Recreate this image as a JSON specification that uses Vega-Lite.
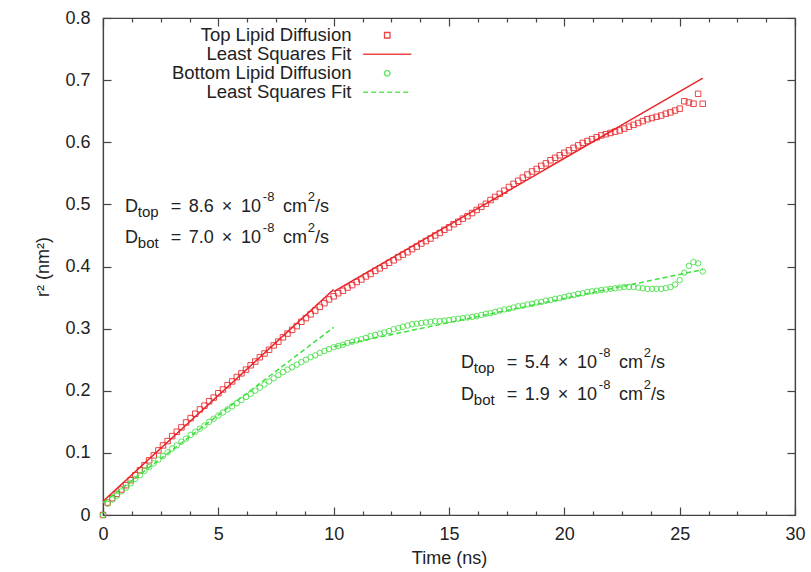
{
  "$schema": "https://vega.github.io/schema/vega-lite/v6.json",
  "width": 692,
  "height": 497,
  "autosize": "none",
  "padding": {"left": 103, "top": 18, "right": 16, "bottom": 57},
  "background": "white",
  "config": {
    "font": "Liberation Sans",
    "view": {"stroke": "#444", "strokeWidth": 1.2},
    "axis": {"grid": false, "domainColor": "#444", "tickColor": "#444", "labelColor": "#222", "titleColor": "#222", "labelFontSize": 18, "titleFontSize": 18, "titleFontWeight": "normal", "labelFont": "Liberation Sans", "titleFont": "Liberation Sans", "labelFlush": false, "labelOverlap": false, "domainWidth": 1.2, "tickWidth": 1.2}
  },
  "datasets": {
    "pts": [
      {"s":"Top","t":0.0,"r":0.000},{"s":"Top","t":0.2,"r":0.020},{"s":"Top","t":0.4,"r":0.027},{"s":"Top","t":0.6,"r":0.034},{"s":"Top","t":0.8,"r":0.041},{"s":"Top","t":1.0,"r":0.048},{"s":"Top","t":1.2,"r":0.056},{"s":"Top","t":1.4,"r":0.064},{"s":"Top","t":1.6,"r":0.072},{"s":"Top","t":1.8,"r":0.080},
      {"s":"Top","t":2.0,"r":0.088},{"s":"Top","t":2.2,"r":0.096},{"s":"Top","t":2.4,"r":0.104},{"s":"Top","t":2.6,"r":0.112},{"s":"Top","t":2.8,"r":0.119},{"s":"Top","t":3.0,"r":0.127},{"s":"Top","t":3.2,"r":0.134},{"s":"Top","t":3.4,"r":0.141},{"s":"Top","t":3.6,"r":0.149},{"s":"Top","t":3.8,"r":0.156},
      {"s":"Top","t":4.0,"r":0.163},{"s":"Top","t":4.2,"r":0.170},{"s":"Top","t":4.4,"r":0.176},{"s":"Top","t":4.6,"r":0.183},{"s":"Top","t":4.8,"r":0.189},{"s":"Top","t":5.0,"r":0.196},{"s":"Top","t":5.2,"r":0.202},{"s":"Top","t":5.4,"r":0.209},{"s":"Top","t":5.6,"r":0.215},{"s":"Top","t":5.8,"r":0.222},
      {"s":"Top","t":6.0,"r":0.228},{"s":"Top","t":6.2,"r":0.234},{"s":"Top","t":6.4,"r":0.241},{"s":"Top","t":6.6,"r":0.247},{"s":"Top","t":6.8,"r":0.254},{"s":"Top","t":7.0,"r":0.260},{"s":"Top","t":7.2,"r":0.266},{"s":"Top","t":7.4,"r":0.273},{"s":"Top","t":7.6,"r":0.279},{"s":"Top","t":7.8,"r":0.286},
      {"s":"Top","t":8.0,"r":0.292},{"s":"Top","t":8.2,"r":0.298},{"s":"Top","t":8.4,"r":0.304},{"s":"Top","t":8.6,"r":0.311},{"s":"Top","t":8.8,"r":0.317},{"s":"Top","t":9.0,"r":0.323},{"s":"Top","t":9.2,"r":0.329},{"s":"Top","t":9.4,"r":0.335},{"s":"Top","t":9.6,"r":0.341},{"s":"Top","t":9.8,"r":0.347},
      {"s":"Top","t":10.0,"r":0.352},{"s":"Top","t":10.2,"r":0.357},{"s":"Top","t":10.4,"r":0.361},{"s":"Top","t":10.6,"r":0.366},{"s":"Top","t":10.8,"r":0.370},{"s":"Top","t":11.0,"r":0.375},{"s":"Top","t":11.2,"r":0.379},{"s":"Top","t":11.4,"r":0.384},{"s":"Top","t":11.6,"r":0.388},{"s":"Top","t":11.8,"r":0.393},
      {"s":"Top","t":12.0,"r":0.397},{"s":"Top","t":12.2,"r":0.401},{"s":"Top","t":12.4,"r":0.406},{"s":"Top","t":12.6,"r":0.410},{"s":"Top","t":12.8,"r":0.415},{"s":"Top","t":13.0,"r":0.419},{"s":"Top","t":13.2,"r":0.423},{"s":"Top","t":13.4,"r":0.428},{"s":"Top","t":13.6,"r":0.432},{"s":"Top","t":13.8,"r":0.437},
      {"s":"Top","t":14.0,"r":0.441},{"s":"Top","t":14.2,"r":0.445},{"s":"Top","t":14.4,"r":0.450},{"s":"Top","t":14.6,"r":0.454},{"s":"Top","t":14.8,"r":0.459},{"s":"Top","t":15.0,"r":0.463},{"s":"Top","t":15.2,"r":0.468},{"s":"Top","t":15.4,"r":0.472},{"s":"Top","t":15.6,"r":0.477},{"s":"Top","t":15.8,"r":0.481},
      {"s":"Top","t":16.0,"r":0.486},{"s":"Top","t":16.2,"r":0.491},{"s":"Top","t":16.4,"r":0.496},{"s":"Top","t":16.6,"r":0.501},{"s":"Top","t":16.8,"r":0.507},{"s":"Top","t":17.0,"r":0.512},{"s":"Top","t":17.2,"r":0.517},{"s":"Top","t":17.4,"r":0.522},{"s":"Top","t":17.6,"r":0.528},{"s":"Top","t":17.8,"r":0.533},
      {"s":"Top","t":18.0,"r":0.538},{"s":"Top","t":18.2,"r":0.543},{"s":"Top","t":18.4,"r":0.548},{"s":"Top","t":18.6,"r":0.553},{"s":"Top","t":18.8,"r":0.557},{"s":"Top","t":19.0,"r":0.562},{"s":"Top","t":19.2,"r":0.566},{"s":"Top","t":19.4,"r":0.571},{"s":"Top","t":19.6,"r":0.575},{"s":"Top","t":19.8,"r":0.579},
      {"s":"Top","t":20.0,"r":0.583},{"s":"Top","t":20.2,"r":0.587},{"s":"Top","t":20.4,"r":0.591},{"s":"Top","t":20.6,"r":0.595},{"s":"Top","t":20.8,"r":0.599},{"s":"Top","t":21.0,"r":0.602},{"s":"Top","t":21.2,"r":0.605},{"s":"Top","t":21.4,"r":0.608},{"s":"Top","t":21.6,"r":0.611},{"s":"Top","t":21.8,"r":0.613},
      {"s":"Top","t":22.0,"r":0.615},{"s":"Top","t":22.2,"r":0.617},{"s":"Top","t":22.4,"r":0.619},{"s":"Top","t":22.6,"r":0.622},{"s":"Top","t":22.8,"r":0.625},{"s":"Top","t":23.0,"r":0.628},{"s":"Top","t":23.2,"r":0.631},{"s":"Top","t":23.4,"r":0.634},{"s":"Top","t":23.6,"r":0.637},{"s":"Top","t":23.8,"r":0.639},
      {"s":"Top","t":24.0,"r":0.641},{"s":"Top","t":24.2,"r":0.643},{"s":"Top","t":24.4,"r":0.646},{"s":"Top","t":24.6,"r":0.648},{"s":"Top","t":24.8,"r":0.651},{"s":"Top","t":25.0,"r":0.654},{"s":"Top","t":25.2,"r":0.666},{"s":"Top","t":25.4,"r":0.664},{"s":"Top","t":25.6,"r":0.662},{"s":"Top","t":25.8,"r":0.678},{"s":"Top","t":26.0,"r":0.662},
      {"s":"Bottom","t":0.0,"r":0.000},{"s":"Bottom","t":0.2,"r":0.018},{"s":"Bottom","t":0.4,"r":0.025},{"s":"Bottom","t":0.6,"r":0.031},{"s":"Bottom","t":0.8,"r":0.038},{"s":"Bottom","t":1.0,"r":0.044},{"s":"Bottom","t":1.2,"r":0.051},{"s":"Bottom","t":1.4,"r":0.058},{"s":"Bottom","t":1.6,"r":0.064},{"s":"Bottom","t":1.8,"r":0.071},
      {"s":"Bottom","t":2.0,"r":0.077},{"s":"Bottom","t":2.2,"r":0.083},{"s":"Bottom","t":2.4,"r":0.089},{"s":"Bottom","t":2.6,"r":0.095},{"s":"Bottom","t":2.8,"r":0.101},{"s":"Bottom","t":3.0,"r":0.107},{"s":"Bottom","t":3.2,"r":0.112},{"s":"Bottom","t":3.4,"r":0.118},{"s":"Bottom","t":3.6,"r":0.123},{"s":"Bottom","t":3.8,"r":0.129},
      {"s":"Bottom","t":4.0,"r":0.134},{"s":"Bottom","t":4.2,"r":0.139},{"s":"Bottom","t":4.4,"r":0.144},{"s":"Bottom","t":4.6,"r":0.150},{"s":"Bottom","t":4.8,"r":0.155},{"s":"Bottom","t":5.0,"r":0.160},{"s":"Bottom","t":5.2,"r":0.165},{"s":"Bottom","t":5.4,"r":0.170},{"s":"Bottom","t":5.6,"r":0.175},{"s":"Bottom","t":5.8,"r":0.180},
      {"s":"Bottom","t":6.0,"r":0.185},{"s":"Bottom","t":6.2,"r":0.190},{"s":"Bottom","t":6.4,"r":0.195},{"s":"Bottom","t":6.6,"r":0.200},{"s":"Bottom","t":6.8,"r":0.205},{"s":"Bottom","t":7.0,"r":0.210},{"s":"Bottom","t":7.2,"r":0.215},{"s":"Bottom","t":7.4,"r":0.220},{"s":"Bottom","t":7.6,"r":0.225},{"s":"Bottom","t":7.8,"r":0.230},
      {"s":"Bottom","t":8.0,"r":0.234},{"s":"Bottom","t":8.2,"r":0.238},{"s":"Bottom","t":8.4,"r":0.242},{"s":"Bottom","t":8.6,"r":0.246},{"s":"Bottom","t":8.8,"r":0.250},{"s":"Bottom","t":9.0,"r":0.254},{"s":"Bottom","t":9.2,"r":0.257},{"s":"Bottom","t":9.4,"r":0.261},{"s":"Bottom","t":9.6,"r":0.264},{"s":"Bottom","t":9.8,"r":0.267},
      {"s":"Bottom","t":10.0,"r":0.270},{"s":"Bottom","t":10.2,"r":0.272},{"s":"Bottom","t":10.4,"r":0.274},{"s":"Bottom","t":10.6,"r":0.277},{"s":"Bottom","t":10.8,"r":0.279},{"s":"Bottom","t":11.0,"r":0.281},{"s":"Bottom","t":11.2,"r":0.283},{"s":"Bottom","t":11.4,"r":0.285},{"s":"Bottom","t":11.6,"r":0.288},{"s":"Bottom","t":11.8,"r":0.290},
      {"s":"Bottom","t":12.0,"r":0.292},{"s":"Bottom","t":12.2,"r":0.294},{"s":"Bottom","t":12.4,"r":0.296},{"s":"Bottom","t":12.6,"r":0.299},{"s":"Bottom","t":12.8,"r":0.301},{"s":"Bottom","t":13.0,"r":0.303},{"s":"Bottom","t":13.2,"r":0.305},{"s":"Bottom","t":13.4,"r":0.307},{"s":"Bottom","t":13.6,"r":0.308},{"s":"Bottom","t":13.8,"r":0.309},
      {"s":"Bottom","t":14.0,"r":0.310},{"s":"Bottom","t":14.2,"r":0.311},{"s":"Bottom","t":14.4,"r":0.312},{"s":"Bottom","t":14.6,"r":0.312},{"s":"Bottom","t":14.8,"r":0.313},{"s":"Bottom","t":15.0,"r":0.314},{"s":"Bottom","t":15.2,"r":0.315},{"s":"Bottom","t":15.4,"r":0.316},{"s":"Bottom","t":15.6,"r":0.317},{"s":"Bottom","t":15.8,"r":0.318},
      {"s":"Bottom","t":16.0,"r":0.319},{"s":"Bottom","t":16.2,"r":0.320},{"s":"Bottom","t":16.4,"r":0.322},{"s":"Bottom","t":16.6,"r":0.324},{"s":"Bottom","t":16.8,"r":0.325},{"s":"Bottom","t":17.0,"r":0.327},{"s":"Bottom","t":17.2,"r":0.329},{"s":"Bottom","t":17.4,"r":0.331},{"s":"Bottom","t":17.6,"r":0.332},{"s":"Bottom","t":17.8,"r":0.334},
      {"s":"Bottom","t":18.0,"r":0.336},{"s":"Bottom","t":18.2,"r":0.337},{"s":"Bottom","t":18.4,"r":0.339},{"s":"Bottom","t":18.6,"r":0.340},{"s":"Bottom","t":18.8,"r":0.342},{"s":"Bottom","t":19.0,"r":0.343},{"s":"Bottom","t":19.2,"r":0.345},{"s":"Bottom","t":19.4,"r":0.346},{"s":"Bottom","t":19.6,"r":0.348},{"s":"Bottom","t":19.8,"r":0.349},
      {"s":"Bottom","t":20.0,"r":0.351},{"s":"Bottom","t":20.2,"r":0.353},{"s":"Bottom","t":20.4,"r":0.354},{"s":"Bottom","t":20.6,"r":0.356},{"s":"Bottom","t":20.8,"r":0.357},{"s":"Bottom","t":21.0,"r":0.359},{"s":"Bottom","t":21.2,"r":0.360},{"s":"Bottom","t":21.4,"r":0.361},{"s":"Bottom","t":21.6,"r":0.362},{"s":"Bottom","t":21.8,"r":0.363},
      {"s":"Bottom","t":22.0,"r":0.364},{"s":"Bottom","t":22.2,"r":0.365},{"s":"Bottom","t":22.4,"r":0.366},{"s":"Bottom","t":22.6,"r":0.367},{"s":"Bottom","t":22.8,"r":0.367},{"s":"Bottom","t":23.0,"r":0.367},{"s":"Bottom","t":23.2,"r":0.366},{"s":"Bottom","t":23.4,"r":0.365},{"s":"Bottom","t":23.6,"r":0.364},{"s":"Bottom","t":23.8,"r":0.364},
      {"s":"Bottom","t":24.0,"r":0.364},{"s":"Bottom","t":24.2,"r":0.364},{"s":"Bottom","t":24.4,"r":0.365},{"s":"Bottom","t":24.6,"r":0.367},{"s":"Bottom","t":24.8,"r":0.371},{"s":"Bottom","t":25.0,"r":0.378},{"s":"Bottom","t":25.2,"r":0.390},{"s":"Bottom","t":25.4,"r":0.401},{"s":"Bottom","t":25.6,"r":0.407},{"s":"Bottom","t":25.8,"r":0.405},{"s":"Bottom","t":26.0,"r":0.392}
    ],
    "fits": [
      {"s":"Top fit","seg":"a","t":0,"r":0.022},{"s":"Top fit","seg":"a","t":10,"r":0.363},
      {"s":"Top fit","seg":"b","t":10,"r":0.3595},{"s":"Top fit","seg":"b","t":26,"r":0.703},
      {"s":"Bottom fit","seg":"c","t":0,"r":0.02},{"s":"Bottom fit","seg":"c","t":10,"r":0.302},
      {"s":"Bottom fit","seg":"d","t":10,"r":0.271},{"s":"Bottom fit","seg":"d","t":26,"r":0.395}
    ],
    "ann": [
      {"x":0.95,"y":0.4882,"text":"D"},{"x":2.94,"y":0.4882,"text":"="},{"x":3.72,"y":0.4882,"text":"8.6"},{"x":5.15,"y":0.4882,"text":"×"},{"x":5.98,"y":0.4882,"text":"10"},{"x":7.80,"y":0.4882,"text":"cm"},{"x":9.19,"y":0.4882,"text":"/s"},
      {"x":0.95,"y":0.4373,"text":"D"},{"x":2.94,"y":0.4373,"text":"="},{"x":3.72,"y":0.4373,"text":"7.0"},{"x":5.15,"y":0.4373,"text":"×"},{"x":5.98,"y":0.4373,"text":"10"},{"x":7.80,"y":0.4373,"text":"cm"},{"x":9.19,"y":0.4373,"text":"/s"},
      {"x":15.515,"y":0.2361,"text":"D"},{"x":17.505,"y":0.2361,"text":"="},{"x":18.285,"y":0.2361,"text":"5.4"},{"x":19.715,"y":0.2361,"text":"×"},{"x":20.545,"y":0.2361,"text":"10"},{"x":22.365,"y":0.2361,"text":"cm"},{"x":23.755,"y":0.2361,"text":"/s"},
      {"x":15.515,"y":0.1851,"text":"D"},{"x":17.505,"y":0.1851,"text":"="},{"x":18.285,"y":0.1851,"text":"1.9"},{"x":19.715,"y":0.1851,"text":"×"},{"x":20.545,"y":0.1851,"text":"10"},{"x":22.365,"y":0.1851,"text":"cm"},{"x":23.755,"y":0.1851,"text":"/s"}
    ],
    "sub": [
      {"x":1.51,"y":0.4882,"text":"top"},{"x":1.51,"y":0.4373,"text":"bot"},
      {"x":16.075,"y":0.2361,"text":"top"},{"x":16.075,"y":0.1851,"text":"bot"}
    ],
    "sup": [
      {"x":6.93,"y":0.4882,"text":"-8"},{"x":8.88,"y":0.4882,"text":"2"},
      {"x":6.93,"y":0.4373,"text":"-8"},{"x":8.88,"y":0.4373,"text":"2"},
      {"x":21.495,"y":0.2361,"text":"-8"},{"x":23.445,"y":0.2361,"text":"2"},
      {"x":21.495,"y":0.1851,"text":"-8"},{"x":23.445,"y":0.1851,"text":"2"}
    ]
  },
  "resolve": {"axis": {"x": "independent", "y": "independent"}},
  "layer": [
    {
      "data": {"name": "pts"},
      "mark": {"type": "point", "filled": false, "strokeWidth": 1, "opacity": 0.85, "size": 30},
      "encoding": {
        "x": {"field": "t", "type": "quantitative", "scale": {"domain": [0, 30], "nice": false, "zero": false},
              "axis": {"orient": "bottom", "values": [0,5,10,15,20,25,30], "tickSize": -8, "labelPadding": 18, "title": "Time (ns)", "titlePadding": 6}},
        "y": {"field": "r", "type": "quantitative", "scale": {"domain": [0, 0.8], "nice": false, "zero": false},
              "axis": {"orient": "left", "values": [0,0.1,0.2,0.3,0.4,0.5,0.6,0.7,0.8], "tickSize": -8, "labelPadding": 21, "labelExpr": "datum.value == 0 ? '0' : format(datum.value, '.1f')", "title": "r² (nm²)", "titlePadding": 12}},
        "color": {"field": "s", "type": "nominal",
                  "scale": {"domain": ["Top","Top fit","Bottom","Bottom fit"], "range": ["#e8262a","#e8262a","#3ee03e","#3ee03e"]},
                  "legend": {"orient": "none", "legendX": 275, "legendY": 8, "title": null, "labelAlign": "right", "labelOffset": -45, "labelFontSize": 18.5, "labelColor": "#222", "labelLimit": 400, "rowPadding": -0.4, "padding": 0, "symbolSize": 30, "symbolStrokeWidth": 1.3,
                             "labelExpr": "datum.label == 'Top' ? 'Top Lipid Diffusion' : datum.label == 'Bottom' ? 'Bottom Lipid Diffusion' : 'Least Squares Fit'"}},
        "shape": {"field": "s", "type": "nominal", "scale": {"domain": ["Top","Top fit","Bottom","Bottom fit"], "range": ["square","M-8.8,0H8.8","circle","M-8.8,0H8.8"]}}
      }
    },
    {
      "data": {"name": "fits"},
      "mark": {"type": "line", "strokeWidth": 1.5},
      "encoding": {
        "x": {"field": "t", "type": "quantitative", "axis": {"orient": "top", "values": [0,5,10,15,20,25,30], "tickSize": -8, "labels": false, "title": null}},
        "y": {"field": "r", "type": "quantitative", "axis": {"orient": "right", "values": [0,0.1,0.2,0.3,0.4,0.5,0.6,0.7,0.8], "tickSize": -8, "labels": false, "title": null}},
        "color": {"field": "s", "type": "nominal"},
        "strokeDash": {"field": "s", "type": "nominal", "scale": {"domain": ["Top","Top fit","Bottom","Bottom fit"], "range": [[1,0],[1,0],[1,0],[5,3]]}},
        "detail": {"field": "seg"}
      }
    },
    {
      "data": {"name": "ann"},
      "mark": {"type": "text", "align": "left", "baseline": "alphabetic", "fontSize": 18, "color": "#222"},
      "encoding": {
        "x": {"field": "x", "type": "quantitative", "axis": {"orient": "bottom", "values": [1.25,2.5,3.75,6.25,7.5,8.75,11.25,12.5,13.75,16.25,17.5,18.75,21.25,22.5,23.75,26.25,27.5,28.75], "tickSize": -4, "labels": false, "domain": false, "title": null}},
        "y": {"field": "y", "type": "quantitative", "axis": null},
        "text": {"field": "text"}
      }
    },
    {
      "data": {"name": "sub"},
      "mark": {"type": "text", "align": "left", "baseline": "alphabetic", "fontSize": 15, "dy": 5, "color": "#222"},
      "encoding": {
        "x": {"field": "x", "type": "quantitative", "axis": {"orient": "top", "values": [1.25,2.5,3.75,6.25,7.5,8.75,11.25,12.5,13.75,16.25,17.5,18.75,21.25,22.5,23.75,26.25,27.5,28.75], "tickSize": -4, "labels": false, "domain": false, "title": null}},
        "y": {"field": "y", "type": "quantitative", "axis": null},
        "text": {"field": "text"}
      }
    },
    {
      "data": {"name": "sup"},
      "mark": {"type": "text", "align": "left", "baseline": "alphabetic", "fontSize": 13, "dy": -11, "color": "#222"},
      "encoding": {
        "x": {"field": "x", "type": "quantitative", "axis": null},
        "y": {"field": "y", "type": "quantitative", "axis": null},
        "text": {"field": "text"}
      }
    }
  ]
}
